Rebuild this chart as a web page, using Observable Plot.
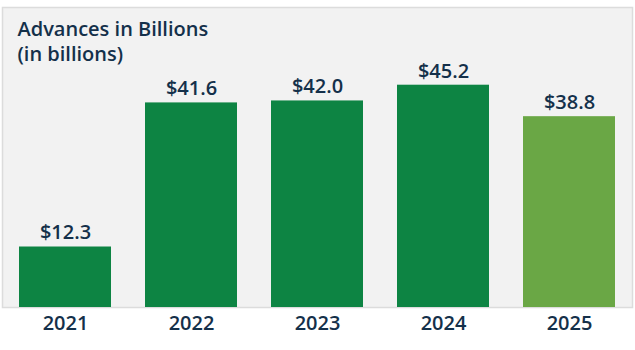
<!DOCTYPE html>
<html>
<head>
<meta charset="utf-8">
<script src="https://cdn.jsdelivr.net/npm/d3@7"></script>
<script src="https://cdn.jsdelivr.net/npm/@observablehq/plot@0.6"></script>
<style>
  html, body { margin: 0; padding: 0; background: #ffffff; }
  #chart svg { display: block; font-family: "Open Sans", sans-serif; }
</style>
</head>
<body>
<div id="chart"></div>
<script>
const years = ["2021", "2022", "2023", "2024", "2025"];
const advances = [12.3, 41.6, 42.0, 45.2, 38.8];
const labels = ["$12.3", "$41.6", "$42.0", "$45.2", "$38.8"];
const barColors = ["#0d8443", "#0d8443", "#0d8443", "#0d8443", "#6aa745"];
const titleLines = ["Advances in Billions", "(in billions)"];

const data = years.map((y, i) => ({year: y, value: advances[i], label: labels[i], color: barColors[i]}));
const navy = "#14304a";

const chart = Plot.plot({
  width: 635,
  height: 350,
  marginLeft: 2,
  marginRight: 3,
  marginTop: 7,
  marginBottom: 43,
  style: {fontFamily: "'Open Sans', sans-serif", background: "#ffffff"},
  x: {domain: years, paddingInner: 0.273, paddingOuter: 0.125, label: null},
  y: {domain: [0, 61], axis: null},
  marks: [
    Plot.frame({fill: "#f2f2f2", stroke: "#dcdcdc", strokeWidth: 1.5}),
    Plot.barY(data, {x: "year", y: "value", fill: "color"}),
    Plot.text(data, {x: "year", y: "value", text: "label", dy: -14, fontSize: 20, fontWeight: 600, fill: navy}),
    Plot.text([titleLines[0]], {frameAnchor: "top-left", dx: 15, dy: 14.5, fontSize: 20, fontWeight: 600, fill: navy, textAnchor: "start"}),
    Plot.text([titleLines[1]], {frameAnchor: "top-left", dx: 15, dy: 39.5, fontSize: 20, fontWeight: 600, fill: navy, textAnchor: "start"}),
    Plot.axisX({tickSize: 0, tickPadding: 8, fontSize: 20, fontWeight: 600, fill: navy, label: null})
  ]
});
document.getElementById("chart").appendChild(chart);
</script>
</body>
</html>
